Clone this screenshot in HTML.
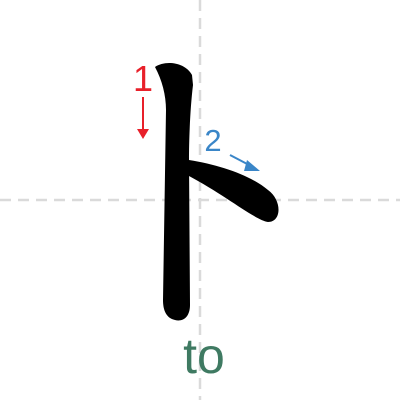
<!DOCTYPE html>
<html><head><style>body{margin:0;background:#fff}svg{display:block}</style></head>
<body>
<svg width="400" height="400" viewBox="0 0 400 400">
<line x1="200" y1="0" x2="200" y2="400" stroke="#dadada" stroke-width="2.5" stroke-dasharray="11,7"/>
<line x1="0" y1="200" x2="400" y2="200" stroke="#dadada" stroke-width="2.5" stroke-dasharray="11,7"/>
<path d="M155,67 C165,60 185,62 192,75 L193,85 C190,110 189,140 189,160 L190,305 C190,318 182,322 175,320 C166,318 163,310 163,300 L166,110 C166,95 162,80 155,67 Z" fill="#000"/>
<path d="M189,160 C220,165 250,175 268,190 C282,200 282,222 268,222 C255,220 225,195 189,176 Z" fill="#000"/>
<text x="143" y="91" font-family="Liberation Sans, sans-serif" font-size="36" fill="#e8202a" text-anchor="middle">1</text>
<line x1="143" y1="97" x2="143" y2="130" stroke="#e8202a" stroke-width="2"/>
<polygon points="137,129 149,129 143,139" fill="#e8202a"/>
<text x="213" y="151" font-family="Liberation Sans, sans-serif" font-size="31" fill="#3a86c8" text-anchor="middle">2</text>
<line x1="230" y1="155" x2="251" y2="166" stroke="#3a86c8" stroke-width="2"/>
<polygon points="247,160 260,171 244,171" fill="#3a86c8"/>
<text x="204" y="373" font-family="Liberation Sans, sans-serif" font-size="50" fill="#3f7a62" text-anchor="middle">to</text>
</svg>
</body></html>
